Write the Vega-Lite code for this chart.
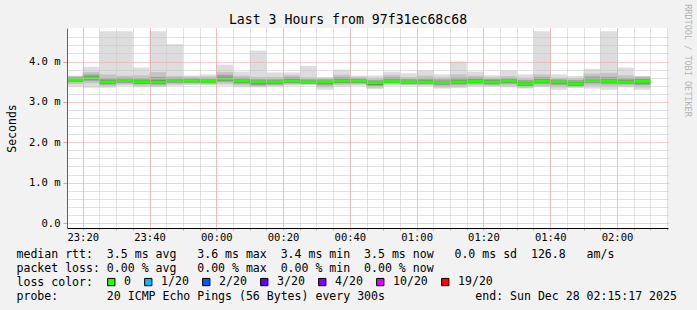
{
  "$schema": "https://vega.github.io/schema/vega-lite/v6.json",
  "width": 601,
  "height": 200,
  "autosize": {"type": "none"},
  "padding": {"left": 67, "top": 28, "right": 29, "bottom": 82},
  "background": "#f2f2f2",
  "config": {
    "view": {"stroke": null, "fill": "white"},
    "font": "DejaVu Sans Mono"
  },
  "title": {
    "text": "Last 3 Hours from 97f31ec68c68",
    "font": "DejaVu Sans Mono",
    "fontSize": 13.2,
    "fontWeight": "normal",
    "color": "#000",
    "anchor": "middle",
    "frame": "group",
    "dx": -19.5,
    "dy": 37,
    "offset": 4,
    "baseline": "alphabetic"
  },
  "data": {
    "values": [
      {"t":"2025-12-27T23:15:00Z","te":"2025-12-27T23:20:00Z","mn":3.38,"a1":3.44,"a2":3.49,"a3":3.51,"md":3.55,"b3":3.58,"b2":3.61,"b1":3.64,"mx":3.65,"loss":"0"},
      {"t":"2025-12-27T23:20:00Z","te":"2025-12-27T23:25:00Z","mn":3.35,"a1":3.46,"a2":3.52,"a3":3.55,"md":3.59,"b3":3.63,"b2":3.68,"b1":3.74,"mx":3.87,"loss":"0"},
      {"t":"2025-12-27T23:25:00Z","te":"2025-12-27T23:30:00Z","mn":3.35,"a1":3.39,"a2":3.43,"a3":3.45,"md":3.49,"b3":3.53,"b2":3.59,"b1":3.68,"mx":4.75,"loss":"0"},
      {"t":"2025-12-27T23:30:00Z","te":"2025-12-27T23:35:00Z","mn":3.40,"a1":3.43,"a2":3.47,"a3":3.49,"md":3.53,"b3":3.56,"b2":3.60,"b1":3.65,"mx":4.75,"loss":"0"},
      {"t":"2025-12-27T23:35:00Z","te":"2025-12-27T23:40:00Z","mn":3.36,"a1":3.40,"a2":3.44,"a3":3.46,"md":3.50,"b3":3.54,"b2":3.59,"b1":3.66,"mx":3.85,"loss":"0"},
      {"t":"2025-12-27T23:40:00Z","te":"2025-12-27T23:45:00Z","mn":3.36,"a1":3.39,"a2":3.43,"a3":3.45,"md":3.49,"b3":3.54,"b2":3.62,"b1":3.74,"mx":4.75,"loss":"0"},
      {"t":"2025-12-27T23:45:00Z","te":"2025-12-27T23:50:00Z","mn":3.40,"a1":3.43,"a2":3.47,"a3":3.49,"md":3.53,"b3":3.56,"b2":3.60,"b1":3.64,"mx":4.43,"loss":"0"},
      {"t":"2025-12-27T23:50:00Z","te":"2025-12-27T23:55:00Z","mn":3.42,"a1":3.44,"a2":3.47,"a3":3.49,"md":3.52,"b3":3.55,"b2":3.59,"b1":3.63,"mx":3.65,"loss":"0"},
      {"t":"2025-12-27T23:55:00Z","te":"2025-12-28T00:00:00Z","mn":3.42,"a1":3.43,"a2":3.46,"a3":3.48,"md":3.51,"b3":3.54,"b2":3.58,"b1":3.63,"mx":3.68,"loss":"0"},
      {"t":"2025-12-28T00:00:00Z","te":"2025-12-28T00:05:00Z","mn":3.40,"a1":3.45,"a2":3.50,"a3":3.53,"md":3.57,"b3":3.61,"b2":3.67,"b1":3.74,"mx":3.92,"loss":"0"},
      {"t":"2025-12-28T00:05:00Z","te":"2025-12-28T00:10:00Z","mn":3.36,"a1":3.41,"a2":3.45,"a3":3.48,"md":3.52,"b3":3.55,"b2":3.60,"b1":3.65,"mx":3.75,"loss":"0"},
      {"t":"2025-12-28T00:10:00Z","te":"2025-12-28T00:15:00Z","mn":3.36,"a1":3.38,"a2":3.41,"a3":3.44,"md":3.49,"b3":3.52,"b2":3.56,"b1":3.62,"mx":4.27,"loss":"0"},
      {"t":"2025-12-28T00:15:00Z","te":"2025-12-28T00:20:00Z","mn":3.38,"a1":3.40,"a2":3.43,"a3":3.45,"md":3.49,"b3":3.52,"b2":3.56,"b1":3.62,"mx":3.73,"loss":"0"},
      {"t":"2025-12-28T00:20:00Z","te":"2025-12-28T00:25:00Z","mn":3.40,"a1":3.43,"a2":3.46,"a3":3.48,"md":3.52,"b3":3.56,"b2":3.61,"b1":3.66,"mx":3.73,"loss":"0"},
      {"t":"2025-12-28T00:25:00Z","te":"2025-12-28T00:30:00Z","mn":3.42,"a1":3.43,"a2":3.45,"a3":3.46,"md":3.49,"b3":3.52,"b2":3.56,"b1":3.61,"mx":3.89,"loss":"0"},
      {"t":"2025-12-28T00:30:00Z","te":"2025-12-28T00:35:00Z","mn":3.30,"a1":3.36,"a2":3.41,"a3":3.45,"md":3.49,"b3":3.52,"b2":3.56,"b1":3.60,"mx":3.61,"loss":"0"},
      {"t":"2025-12-28T00:35:00Z","te":"2025-12-28T00:40:00Z","mn":3.38,"a1":3.42,"a2":3.46,"a3":3.48,"md":3.52,"b3":3.56,"b2":3.61,"b1":3.67,"mx":3.80,"loss":"0"},
      {"t":"2025-12-28T00:40:00Z","te":"2025-12-28T00:45:00Z","mn":3.40,"a1":3.43,"a2":3.46,"a3":3.48,"md":3.52,"b3":3.55,"b2":3.59,"b1":3.62,"mx":3.65,"loss":"0"},
      {"t":"2025-12-28T00:45:00Z","te":"2025-12-28T00:50:00Z","mn":3.32,"a1":3.35,"a2":3.39,"a3":3.42,"md":3.47,"b3":3.50,"b2":3.54,"b1":3.60,"mx":3.65,"loss":"0"},
      {"t":"2025-12-28T00:50:00Z","te":"2025-12-28T00:55:00Z","mn":3.40,"a1":3.43,"a2":3.46,"a3":3.48,"md":3.51,"b3":3.55,"b2":3.61,"b1":3.67,"mx":3.75,"loss":"0"},
      {"t":"2025-12-28T00:55:00Z","te":"2025-12-28T01:00:00Z","mn":3.40,"a1":3.42,"a2":3.44,"a3":3.46,"md":3.49,"b3":3.52,"b2":3.57,"b1":3.62,"mx":3.71,"loss":"0"},
      {"t":"2025-12-28T01:00:00Z","te":"2025-12-28T01:05:00Z","mn":3.40,"a1":3.41,"a2":3.44,"a3":3.46,"md":3.49,"b3":3.53,"b2":3.58,"b1":3.65,"mx":3.78,"loss":"0"},
      {"t":"2025-12-28T01:05:00Z","te":"2025-12-28T01:10:00Z","mn":3.33,"a1":3.36,"a2":3.41,"a3":3.44,"md":3.48,"b3":3.51,"b2":3.56,"b1":3.61,"mx":3.68,"loss":"0"},
      {"t":"2025-12-28T01:10:00Z","te":"2025-12-28T01:15:00Z","mn":3.34,"a1":3.38,"a2":3.43,"a3":3.45,"md":3.49,"b3":3.53,"b2":3.60,"b1":3.68,"mx":4.00,"loss":"0"},
      {"t":"2025-12-28T01:15:00Z","te":"2025-12-28T01:20:00Z","mn":3.38,"a1":3.41,"a2":3.45,"a3":3.47,"md":3.51,"b3":3.55,"b2":3.60,"b1":3.65,"mx":3.75,"loss":"0"},
      {"t":"2025-12-28T01:20:00Z","te":"2025-12-28T01:25:00Z","mn":3.38,"a1":3.40,"a2":3.43,"a3":3.45,"md":3.49,"b3":3.53,"b2":3.57,"b1":3.61,"mx":3.66,"loss":"0"},
      {"t":"2025-12-28T01:25:00Z","te":"2025-12-28T01:30:00Z","mn":3.36,"a1":3.40,"a2":3.45,"a3":3.48,"md":3.52,"b3":3.55,"b2":3.59,"b1":3.64,"mx":3.78,"loss":"0"},
      {"t":"2025-12-28T01:30:00Z","te":"2025-12-28T01:35:00Z","mn":3.33,"a1":3.35,"a2":3.39,"a3":3.41,"md":3.45,"b3":3.49,"b2":3.54,"b1":3.60,"mx":3.68,"loss":"0"},
      {"t":"2025-12-28T01:35:00Z","te":"2025-12-28T01:40:00Z","mn":3.36,"a1":3.39,"a2":3.44,"a3":3.47,"md":3.51,"b3":3.55,"b2":3.61,"b1":3.68,"mx":4.75,"loss":"0"},
      {"t":"2025-12-28T01:40:00Z","te":"2025-12-28T01:45:00Z","mn":3.30,"a1":3.36,"a2":3.42,"a3":3.45,"md":3.49,"b3":3.52,"b2":3.56,"b1":3.60,"mx":3.68,"loss":"0"},
      {"t":"2025-12-28T01:45:00Z","te":"2025-12-28T01:50:00Z","mn":3.35,"a1":3.36,"a2":3.39,"a3":3.41,"md":3.45,"b3":3.49,"b2":3.54,"b1":3.59,"mx":3.64,"loss":"0"},
      {"t":"2025-12-28T01:50:00Z","te":"2025-12-28T01:55:00Z","mn":3.33,"a1":3.40,"a2":3.46,"a3":3.49,"md":3.53,"b3":3.57,"b2":3.63,"b1":3.70,"mx":3.82,"loss":"0"},
      {"t":"2025-12-28T01:55:00Z","te":"2025-12-28T02:00:00Z","mn":3.30,"a1":3.38,"a2":3.44,"a3":3.47,"md":3.51,"b3":3.55,"b2":3.62,"b1":3.72,"mx":4.75,"loss":"0"},
      {"t":"2025-12-28T02:00:00Z","te":"2025-12-28T02:05:00Z","mn":3.36,"a1":3.40,"a2":3.44,"a3":3.46,"md":3.49,"b3":3.53,"b2":3.59,"b1":3.66,"mx":3.85,"loss":"0"},
      {"t":"2025-12-28T02:05:00Z","te":"2025-12-28T02:10:00Z","mn":3.30,"a1":3.36,"a2":3.42,"a3":3.46,"md":3.51,"b3":3.55,"b2":3.60,"b1":3.63,"mx":3.64,"loss":"0"}
    ]
  },
  "resolve": {"axis": {"x": "independent", "y": "independent"}},
  "layer": [
    {
      "mark": {"type": "rect", "color": "#dddddd", "clip": true},
      "encoding": {
        "x": {"field": "t", "type": "temporal",
          "scale": {"type": "utc", "domain": [1766877317000, 1766888117000], "nice": false},
          "axis": {"orient": "bottom", "values": [1766877600000,1766877900000,1766878200000,1766878500000,1766878800000,1766879100000,1766879400000,1766879700000,1766880000000,1766880300000,1766880600000,1766880900000,1766881200000,1766881500000,1766881800000,1766882100000,1766882400000,1766882700000,1766883000000,1766883300000,1766883600000,1766883900000,1766884200000,1766884500000,1766884800000,1766885100000,1766885400000,1766885700000,1766886000000,1766886300000,1766886600000,1766886900000,1766887200000,1766887500000,1766887800000,1766888100000],
            "grid": true, "gridColor": "#c4c4c4", "gridDash": [1, 1], "labels": false, "ticks": true, "tickSize": 2, "tickColor": "#e89090", "domain": false, "title": null, "zindex": 1}},
        "x2": {"field": "te"},
        "y": {"field": "mn", "type": "quantitative",
          "scale": {"domain": [0, 4.706], "nice": false, "zero": false},
          "axis": {"orient": "left", "values": [0.2, 0.4, 0.6, 0.8, 1.2, 1.4, 1.6, 1.8, 2.2, 2.4, 2.6, 2.8, 3.2, 3.4, 3.6, 3.8, 4.2, 4.4, 4.6], "grid": true, "gridColor": "#c4c4c4", "gridDash": [1, 1], "labels": false, "ticks": false, "domain": false, "title": null, "zindex": 1}},
        "y2": {"field": "mx"}
      }
    },
    {
      "mark": {"type": "rect", "color": "#c4c4c4", "clip": true},
      "encoding": {
        "x": {"field": "t", "type": "temporal",
          "scale": {"type": "utc", "domain": [1766877317000, 1766888117000], "nice": false},
          "axis": {"orient": "bottom", "values": [1766877600000,1766878800000,1766880000000,1766881200000,1766882400000,1766883600000,1766884800000,1766886000000,1766887200000],
            "grid": true, "gridColor": "#f29a9a", "gridDash": [1, 1], "labels": false, "ticks": false, "domain": false, "title": null, "zindex": 1}},
        "x2": {"field": "te"},
        "y": {"field": "a1", "type": "quantitative",
          "scale": {"domain": [0, 4.706], "nice": false, "zero": false},
          "axis": {"orient": "left", "values": [0, 1, 2, 3, 4], "grid": true, "gridColor": "#f29a9a", "gridDash": [1, 1],
            "labelExpr": "datum.value == 0 ? '0.0' : format(datum.value, '.1f') + ' m'",
            "labelFont": "DejaVu Sans Mono", "labelFontSize": 10.5, "labelColor": "#000", "labelPadding": 3, "labelFlush": false, "labelBaseline": "middle",
            "ticks": true, "tickSize": 4, "tickColor": "#f29a9a", "domain": true, "domainColor": "#606060",
            "title": "Seconds", "titleX": -52, "titleY": 100, "titleAngle": -90, "titleAlign": "center", "titleBaseline": "alphabetic",
            "titleFont": "DejaVu Sans Mono", "titleFontWeight": "normal", "titleFontSize": 11.5, "titleColor": "#000", "zindex": 1}},
        "y2": {"field": "b1"}
      }
    },
    {
      "mark": {"type": "rect", "color": "#a2a2a2", "clip": true},
      "encoding": {
        "x": {"field": "t", "type": "temporal",
          "scale": {"type": "utc", "domain": [1766877317000, 1766888117000], "nice": false},
          "axis": {"orient": "bottom", "values": [1766877600000,1766878800000,1766880000000,1766881200000,1766882400000,1766883600000,1766884800000,1766886000000,1766887200000],
            "labelExpr": "utcFormat(datum.value, '%H:%M')",
            "labelFont": "DejaVu Sans Mono", "labelFontSize": 10.5, "labelColor": "#000", "labelPadding": 4, "labelFlush": false, "labelOverlap": false,
            "ticks": false, "grid": false, "domain": true, "domainColor": "#000", "domainWidth": 1,
            "title": [
              "median\u00a0rtt:\u00a0\u00a03.5\u00a0ms\u00a0avg\u00a0\u00a0\u00a03.6\u00a0ms\u00a0max\u00a0\u00a03.4\u00a0ms\u00a0min\u00a0\u00a03.5\u00a0ms\u00a0now\u00a0\u00a0\u00a00.0\u00a0ms\u00a0sd\u00a0\u00a0126.8\u00a0\u00a0\u00a0am/s",
              "packet\u00a0loss:\u00a00.00\u00a0%\u00a0avg\u00a0\u00a0\u00a00.00\u00a0%\u00a0max\u00a0\u00a00.00\u00a0%\u00a0min\u00a0\u00a00.00\u00a0%\u00a0now",
              "loss\u00a0color:",
              "probe:\u00a0\u00a0\u00a0\u00a0\u00a0\u00a0\u00a020\u00a0ICMP\u00a0Echo\u00a0Pings\u00a0(56\u00a0Bytes)\u00a0every\u00a0300s\u00a0\u00a0\u00a0\u00a0\u00a0\u00a0\u00a0\u00a0\u00a0\u00a0\u00a0\u00a0\u00a0end:\u00a0Sun\u00a0Dec\u00a028\u00a002:15:17\u00a02025"
            ],
            "titleX": -51, "titleY": 29.5, "titleAnchor": "start", "titleAlign": "left", "titleBaseline": "alphabetic", "titleLineHeight": 14,
            "titleFont": "DejaVu Sans Mono", "titleFontSize": 11.55, "titleFontWeight": "normal", "titleColor": "#000", "titleLimit": 1000, "zindex": 1}},
        "x2": {"field": "te"},
        "y": {"field": "a2", "type": "quantitative",
          "scale": {"domain": [0, 4.706], "nice": false, "zero": false},
          "axis": {"orient": "right", "title": "RRDTOOL / TOBI OETIKER", "titleAngle": 90, "titleX": 16.5, "titleY": 32, "titleAlign": "center", "titleBaseline": "alphabetic",
            "titleFont": "DejaVu Sans Mono", "titleFontSize": 8.5, "titleColor": "#b4b4b4", "titleFontWeight": "normal",
            "labels": false, "ticks": false, "domain": false, "grid": false}},
        "y2": {"field": "b2"}
      }
    },
    {
      "mark": {"type": "rect", "color": "#6e6e6e", "clip": true},
      "encoding": {
        "x": {"field": "t", "type": "temporal",
          "scale": {"type": "utc", "domain": [1766877317000, 1766888117000], "nice": false},
          "axis": null},
        "x2": {"field": "te"},
        "y": {"field": "a3", "type": "quantitative", "scale": {"domain": [0, 4.706], "nice": false, "zero": false}, "axis": null},
        "y2": {"field": "b3"}
      }
    },
    {
      "mark": {"type": "bar", "orient": "horizontal", "size": 3, "clip": true},
      "encoding": {
        "x": {"field": "t", "type": "temporal",
          "scale": {"type": "utc", "domain": [1766877317000, 1766888117000], "nice": false},
          "axis": null},
        "x2": {"field": "te"},
        "y": {"field": "md", "type": "quantitative", "scale": {"domain": [0, 4.706], "nice": false, "zero": false}, "axis": null},
        "color": {"field": "loss", "type": "nominal",
          "scale": {"domain": ["0", "1/20", "2/20", "3/20", "4/20", "10/20", "19/20"], "range": ["#26ff00", "#00b8ff", "#0059ff", "#5e00ff", "#7e00ff", "#dd00ff", "#ff0000"]},
          "legend": {"orient": "none", "legendX": 38.5, "legendY": 248, "direction": "horizontal", "title": null,
            "labelFont": "DejaVu Sans Mono", "labelFontSize": 11.55, "labelColor": "#000", "labelOffset": 7,
            "symbolType": "square", "symbolSize": 53, "symbolStrokeColor": "#000", "symbolStrokeWidth": 1, "symbolOpacity": 1,
            "columnPadding": 11, "padding": 0}}
      }
    }
  ]
}
